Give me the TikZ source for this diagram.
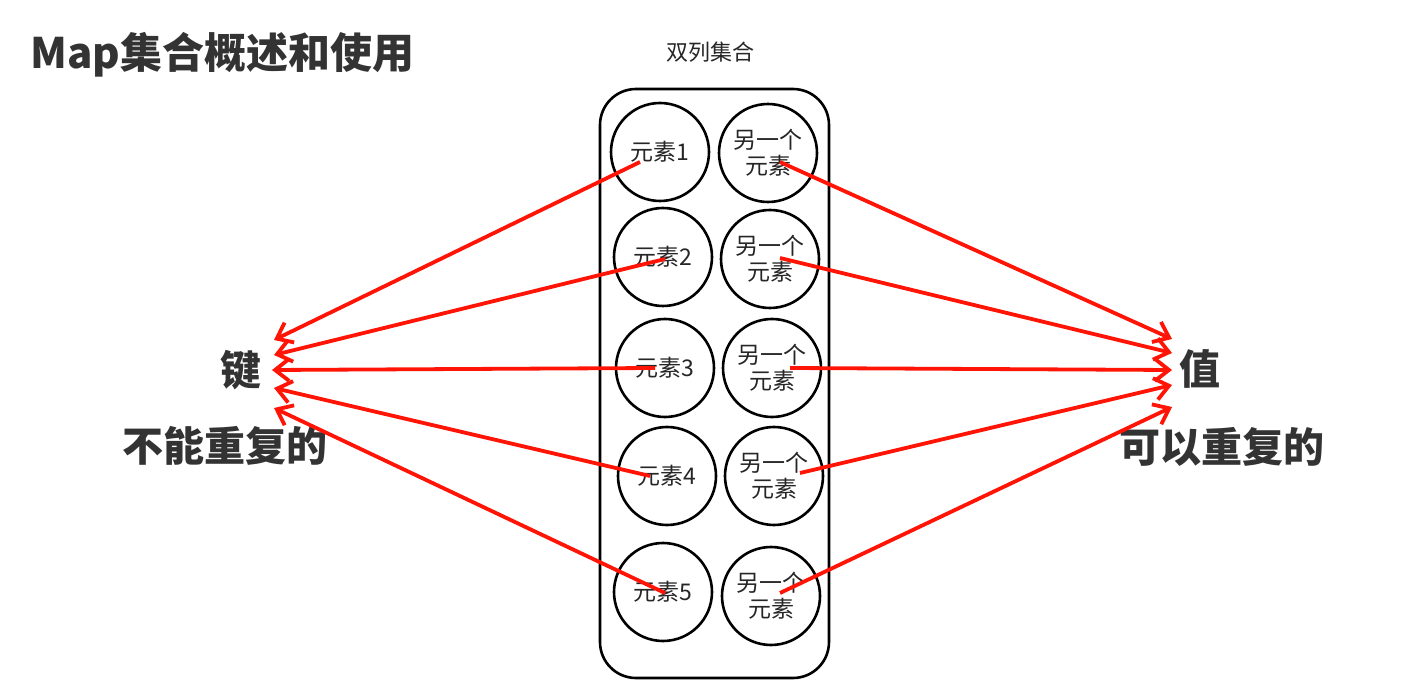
\documentclass[tikz,border=0pt]{standalone}
\usepackage{fontspec}
\setmainfont{Noto Sans CJK SC}
\usetikzlibrary{arrows.meta}
\definecolor{txt}{HTML}{333333}
\definecolor{arr}{HTML}{FF1405}
\tikzset{
  elem/.style={circle,draw=black,line width=2.6pt,minimum size=98pt,inner sep=0pt,
    align=center,font=\fontsize{23}{26}\selectfont,text=black!85},
  big/.style={font=\bfseries\fontsize{41}{44}\selectfont,text=txt,inner sep=0pt},
  link/.style={draw=arr,line width=3.8pt,-{Straight Barb[length=14pt,width=22pt]}},
}
\begin{document}
\begin{tikzpicture}[x=1pt,y=-1pt]
\useasboundingbox[fill=white] (0,0) rectangle (1414,692);
\node[big,anchor=west,font=\bfseries\fontsize{42}{44}\selectfont] (title) at (30,55) {Map集合概述和使用};
\node[font=\fontsize{22}{26}\selectfont,text=black!85] (cap) at (710,52) {双列集合};
\draw[line width=2.6pt,rounded corners=36pt] (600,89) rectangle (829,678);
% left column
\node[elem] (l1) at (660,152) {元素1};
\node[elem] (l2) at (663,257) {元素2};
\node[elem] (l3) at (665,368) {元素3};
\node[elem] (l4) at (667,476) {元素4};
\node[elem] (l5) at (663,592) {元素5};
% right column
\node[elem] (r1) at (768,153) {另一个\\元素};
\node[elem] (r2) at (770,259) {另一个\\元素};
\node[elem] (r3) at (772,368) {另一个\\元素};
\node[elem] (r4) at (774,476) {另一个\\元素};
\node[elem] (r5) at (771,596) {另一个\\元素};
% labels
\node[big] (key) at (241,370) {键};
\node[big] (keyd) at (225,446) {不能重复的};
\node[big] (val) at (1200,369) {值};
\node[big] (vald) at (1222,447) {可以重复的};
% start points
\coordinate (ls1) at (640,162);
\coordinate (ls2) at (665,259);
\coordinate (ls3) at (655,368);
\coordinate (ls4) at (650,476);
\coordinate (ls5) at (665,593);
\coordinate (rs1) at (780,162);
\coordinate (rs2) at (780,258);
\coordinate (rs3) at (790,368);
\coordinate (rs4) at (800,473);
\coordinate (rs5) at (780,593);
% tips
\coordinate (kt1) at (274,340);
\coordinate (kt2) at (274,355);
\coordinate (kt3) at (272,370);
\coordinate (kt4) at (274,388);
\coordinate (kt5) at (274,408);
\coordinate (vt1) at (1172,339);
\coordinate (vt2) at (1172,353);
\coordinate (vt3) at (1172,370);
\coordinate (vt4) at (1172,385);
\coordinate (vt5) at (1172,407);
\foreach \i in {1,...,5}{
  \draw[link] (ls\i) -- (kt\i);
  \draw[link] (rs\i) -- (vt\i);
}
\end{tikzpicture}
\end{document}
